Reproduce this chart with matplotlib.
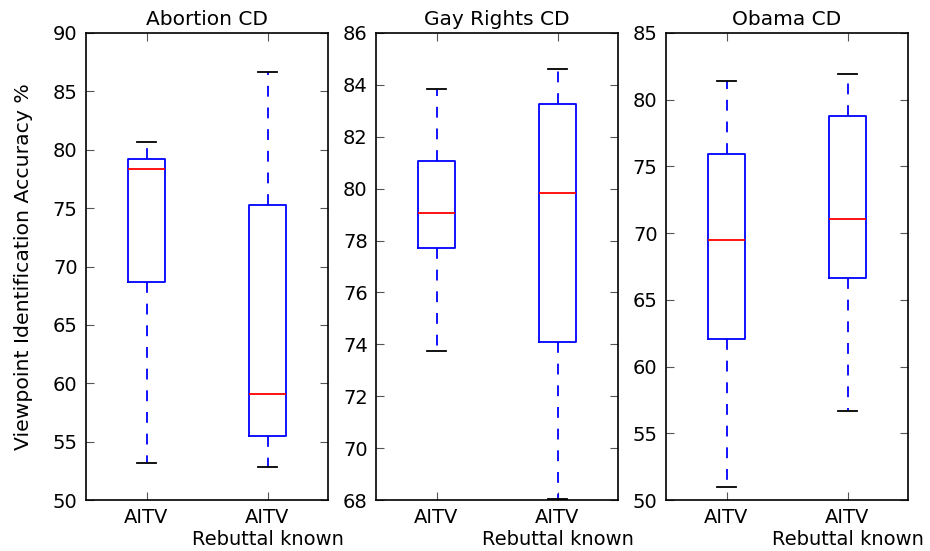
import matplotlib
matplotlib.use("Agg")
import matplotlib.pyplot as plt

# Five-number summaries: low whisker, q1, median, q3, high whisker
titles = ["Abortion CD", "Gay Rights CD", "Obama CD"]
tick_labels = ["AITV", "AITV\nRebuttal known"]

abortion_aitv = [53.2, 68.7, 78.35, 79.25, 80.7]
abortion_rebuttal = [52.85, 55.45, 59.1, 75.3, 86.7]
gay_aitv = [73.75, 77.7, 79.05, 81.05, 83.85]
gay_rebuttal = [68.05, 74.1, 79.85, 83.25, 84.6]
obama_aitv = [50.95, 62.1, 69.5, 75.9, 81.4]
obama_rebuttal = [56.65, 66.65, 71.05, 78.75, 81.9]

groups = [
    [abortion_aitv, abortion_rebuttal],
    [gay_aitv, gay_rebuttal],
    [obama_aitv, obama_rebuttal],
]
ylims = [(50, 90), (68, 86), (50, 85)]

plt.rcParams['font.family'] = ['DejaVu Sans']

fig = plt.figure(figsize=(9.3, 5.51), dpi=100)
lefts = [86, 376, 666]

for i, (left, data) in enumerate(zip(lefts, groups)):
    ax = fig.add_axes([left / 930, 51 / 551, 242 / 930, 467 / 551])
    stats = []
    for d in data:
        stats.append({'whislo': d[0], 'q1': d[1], 'med': d[2],
                      'q3': d[3], 'whishi': d[4], 'fliers': []})
    ax.bxp(stats, positions=[1, 2], widths=0.3, capwidths=0.15,
           boxprops=dict(color='blue', linewidth=1.3),
           whiskerprops=dict(color='blue', linewidth=1.3, linestyle=(0, (6, 6))),
           capprops=dict(color='black', linewidth=1.3),
           medianprops=dict(color='red', linewidth=1.3),
           manage_ticks=False)
    ax.set_xlim(0.5, 2.5)
    ax.set_ylim(*ylims[i])
    ax.set_xticks([1, 2])
    ax.set_xticklabels(tick_labels)
    ax.set_title(titles[i], fontsize=14.5)
    ax.tick_params(direction='in', top=True, right=True, length=6,
                   labelsize=14, color='#555555', pad=6)
    for s in ax.spines.values():
        s.set_linewidth(1.2)
    if i == 0:
        ax.set_ylabel("Viewpoint Identification Accuracy %", fontsize=14.7,
                      labelpad=14)

fig.savefig("out.png", dpi=100)
